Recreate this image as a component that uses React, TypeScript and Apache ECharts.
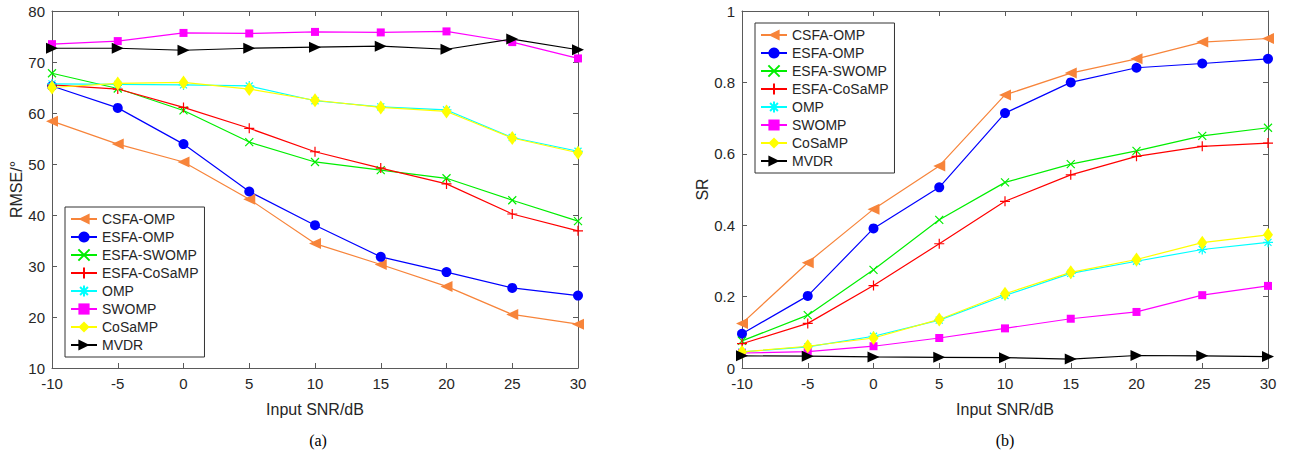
import React, { useEffect, useRef } from "react";
import * as echarts from "echarts";

const snr = [-10, -5, 0, 5, 10, 15, 20, 25, 30];
const seriesNames = ["CSFA-OMP", "ESFA-OMP", "ESFA-SWOMP", "ESFA-CoSaMP", "OMP", "SWOMP", "CoSaMP", "MVDR"];

const csfaOmpRmse = [58.4, 53.9, 50.4, 43.1, 34.4, 30.3, 26.0, 20.5, 18.6];
const esfaOmpRmse = [65.3, 61.0, 53.9, 44.6, 38.0, 31.8, 28.8, 25.7, 24.2];
const esfaSwompRmse = [67.8, 64.8, 60.5, 54.3, 50.4, 48.8, 47.2, 42.9, 38.8];
const esfaCosampRmse = [65.5, 64.7, 61.1, 57.0, 52.4, 49.2, 46.1, 40.2, 36.9];
const ompRmse = [65.7, 65.6, 65.5, 65.3, 62.4, 61.2, 60.6, 55.2, 52.5];
const swompRmse = [73.5, 74.1, 75.7, 75.6, 75.9, 75.8, 76.0, 73.9, 70.7];
const cosampRmse = [65.0, 65.8, 66.0, 64.7, 62.5, 61.1, 60.3, 55.1, 52.2];
const mvdrRmse = [72.7, 72.7, 72.3, 72.7, 72.9, 73.1, 72.5, 74.5, 72.4];

const csfaOmpSr = [0.125, 0.295, 0.445, 0.566, 0.765, 0.826, 0.866, 0.913, 0.923];
const esfaOmpSr = [0.096, 0.202, 0.391, 0.506, 0.714, 0.8, 0.841, 0.853, 0.866];
const esfaSwompSr = [0.076, 0.148, 0.275, 0.415, 0.52, 0.571, 0.608, 0.65, 0.673];
const esfaCosampSr = [0.068, 0.125, 0.231, 0.348, 0.467, 0.541, 0.593, 0.621, 0.63];
const ompSr = [0.045, 0.059, 0.089, 0.134, 0.203, 0.265, 0.299, 0.332, 0.352];
const swompSr = [0.042, 0.046, 0.061, 0.084, 0.111, 0.138, 0.157, 0.204, 0.23];
const cosampSr = [0.045, 0.061, 0.084, 0.136, 0.208, 0.268, 0.304, 0.351, 0.373];
const mvdrSr = [0.034, 0.033, 0.031, 0.03, 0.029, 0.025, 0.035, 0.034, 0.032];

const rmseSeries = [csfaOmpRmse, esfaOmpRmse, esfaSwompRmse, esfaCosampRmse, ompRmse, swompRmse, cosampRmse, mvdrRmse];
const srSeries = [csfaOmpSr, esfaOmpSr, esfaSwompSr, esfaCosampSr, ompSr, swompSr, cosampSr, mvdrSr];

const FONT = "'Liberation Sans', Arial, Helvetica, sans-serif";
const TXT = "#262626";
const AX = "#5a5a5a";

const styles = [
  { color: "#f7843a", symbol: "triangle", size: [11, 12], rotate: 90, filled: true },
  { color: "#0000ff", symbol: "circle", size: 10, rotate: 0, filled: true },
  { color: "#00ee00", symbol: "path://M0,0L10,10M10,0L0,10", size: 8, rotate: 0, filled: false },
  { color: "#ff0000", symbol: "path://M5,0L5,10M0,5L10,5", size: 10, rotate: 0, filled: false },
  { color: "#00ffff", symbol: "path://M5,0L5,10M0,5L10,5M1.5,1.5L8.5,8.5M8.5,1.5L1.5,8.5", size: 10, rotate: 0, filled: false },
  { color: "#ff00ff", symbol: "rect", size: 8, rotate: 0, filled: true },
  { color: "#ffff00", symbol: "diamond", size: [10, 14], rotate: 0, filled: true },
  { color: "#000000", symbol: "triangle", size: [11, 12], rotate: -90, filled: true },
];

function makeSeries(values: number[][], xIdx: number, yIdx: number) {
  return values.map((vals, i) => {
    const s = styles[i];
    return {
      type: "line",
      name: seriesNames[i],
      xAxisIndex: xIdx,
      yAxisIndex: yIdx,
      data: vals.map((v, j) => [snr[j], v]),
      symbol: s.symbol,
      symbolSize: s.size,
      symbolRotate: s.rotate,
      showAllSymbol: true,
      lineStyle: { color: s.color, width: 1.2 },
      itemStyle: s.filled
        ? { color: s.color, borderColor: s.color, borderWidth: 0 }
        : { color: "rgba(0,0,0,0)", borderColor: s.color, borderWidth: 1.2 },
      color: s.color,
      emphasis: { disabled: true },
    };
  });
}

function xAxes(gridIndex: number) {
  const base = {
    type: "value",
    gridIndex,
    min: -10,
    max: 30,
    interval: 5,
    splitLine: { show: false },
    axisLine: { show: true, onZero: false, lineStyle: { color: AX, width: 1 } },
    axisTick: { show: true, inside: true, length: 5, lineStyle: { color: AX } },
  };
  return [
    {
      ...base,
      position: "bottom",
      name: "Input SNR/dB",
      nameLocation: "middle",
      nameGap: 33,
      nameTextStyle: { fontFamily: FONT, fontSize: 16, color: TXT },
      axisLabel: { fontFamily: FONT, fontSize: 15, color: TXT, margin: 8 },
    },
    { ...base, position: "top", axisLabel: { show: false } },
  ];
}

function yAxes(gridIndex: number, min: number, max: number, interval: number, name: string, gap: number) {
  const base = {
    type: "value",
    gridIndex,
    min,
    max,
    interval,
    splitLine: { show: false },
    axisLine: { show: true, onZero: false, lineStyle: { color: AX, width: 1 } },
    axisTick: { show: true, inside: true, length: 5, lineStyle: { color: AX } },
  };
  return [
    {
      ...base,
      position: "left",
      name,
      nameLocation: "middle",
      nameGap: gap,
      nameTextStyle: { fontFamily: FONT, fontSize: 16, color: TXT },
      axisLabel: { fontFamily: FONT, fontSize: 15, color: TXT, margin: 7 },
    },
    { ...base, position: "right", axisLabel: { show: false } },
  ];
}

function legend(left: number, top: number) {
  return {
    orient: "vertical",
    left,
    top,
    data: seriesNames,
    itemWidth: 26,
    itemHeight: 14,
    itemGap: 4,
    padding: [5, 6, 5, 5],
    borderColor: "#333333",
    borderWidth: 1,
    backgroundColor: "#ffffff",
    selectedMode: false,
    textStyle: { fontFamily: FONT, fontSize: 14, color: TXT, padding: [0, 0, 0, 0] },
  };
}

export default function App() {
  const ref = useRef<HTMLDivElement>(null);
  useEffect(() => {
    if (!ref.current) return;
    const chart = echarts.init(ref.current, undefined, { renderer: "svg" });
    chart.setOption({
      animation: false,
      backgroundColor: "#ffffff",
      grid: [
        { left: 52, top: 11, width: 526, height: 357 },
        { left: 742, top: 11, width: 526, height: 357 },
      ],
      xAxis: [...xAxes(0), ...xAxes(1)],
      yAxis: [...yAxes(0, 10, 80, 10, "RMSE/°", 28), ...yAxes(1, 0, 1, 0.2, "SR", 32)],
      legend: [legend(65, 207), legend(755, 23)],
      series: [...makeSeries(rmseSeries, 0, 0), ...makeSeries(srSeries, 2, 2)],
      graphic: [
        {
          type: "text",
          x: 318,
          y: 440,
          style: { text: "(a)", font: "16px 'Liberation Serif', 'Times New Roman', serif", fill: "#000", align: "center", verticalAlign: "middle" },
        },
        {
          type: "text",
          x: 1005,
          y: 440,
          style: { text: "(b)", font: "16px 'Liberation Serif', 'Times New Roman', serif", fill: "#000", align: "center", verticalAlign: "middle" },
        },
      ],
    });
    return () => chart.dispose();
  }, []);
  return <div ref={ref} style={{ position: "fixed", left: 0, top: 0, width: 1291, height: 454, background: "#fff" }} />;
}
